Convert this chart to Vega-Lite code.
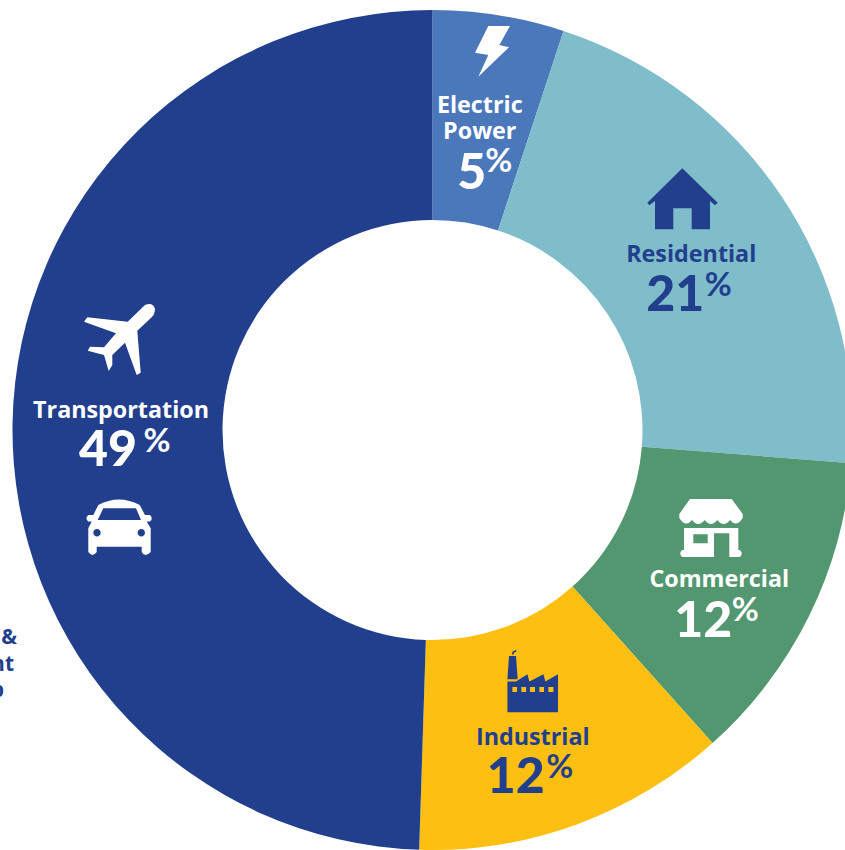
{"$schema":"https://vega.github.io/schema/vega-lite/v6.json","width":845,"height":850,"padding":0,"autosize":{"type":"none"},"background":"white","config":{"view":{"stroke":null}},
"layer":[
{"data":{"values":[{"sector":"Electric Power","share":5,"rank":1},{"sector":"Residential","share":21,"rank":2},{"sector":"Commercial","share":12,"rank":3},{"sector":"Industrial","share":12,"rank":4},{"sector":"Transportation","share":49,"rank":5}]},
"encoding":{"theta":{"field":"share","type":"quantitative","stack":true,"scale":{"domain":[0,99]}},"detail":{"field":"sector"},"order":{"field":"rank","type":"quantitative"}},
"layer":[
{"mark":{"type":"arc","x":432.5,"y":430,"innerRadius":210,"outerRadius":420},"encoding":{"color":{"field":"sector","type":"nominal","legend":null,"scale":{"domain":["Electric Power","Residential","Commercial","Industrial","Transportation"],"range":["#4B77BB","#7FBDCA","#539770","#FDBF11","#223F8D"]}}}},
{"mark":{"type":"text","x":432,"y":430,"radius":315,"dx":-2,"dy":-13,"font":"Open Sans","fontSize":23.3,"fontWeight":"bold","fill":"white","lineBreak":" ","lineHeight":26},"encoding":{"text":{"condition":{"test":"datum.sector==='Electric Power'","field":"sector"},"value":""}}},
{"mark":{"type":"text","x":432,"y":430,"radius":315,"dx":-3,"dy":-1,"font":"Open Sans","fontSize":23.3,"fontWeight":"bold","fill":"#223F8D"},"encoding":{"text":{"condition":{"test":"datum.sector==='Residential'","field":"sector"},"value":""}}},
{"mark":{"type":"text","x":432,"y":430,"radius":315,"dx":5,"dy":10,"font":"Open Sans","fontSize":23.3,"fontWeight":"bold","fill":"white"},"encoding":{"text":{"condition":{"test":"datum.sector==='Commercial'","field":"sector"},"value":""}}},
{"mark":{"type":"text","x":432,"y":430,"radius":315,"dx":-7,"dy":12,"font":"Open Sans","fontSize":23.3,"fontWeight":"bold","fill":"#223F8D"},"encoding":{"text":{"condition":{"test":"datum.sector==='Industrial'","field":"sector"},"value":""}}},
{"mark":{"type":"text","x":432,"y":430,"radius":315,"dx":4,"dy":-14,"font":"Open Sans","fontSize":23.3,"fontWeight":"bold","fill":"white"},"encoding":{"text":{"condition":{"test":"datum.sector==='Transportation'","field":"sector"},"value":""}}},
{"mark":{"type":"text","x":432,"y":430,"radius":315,"dx":-10,"dy":55,"font":"Lato","fontSize":50,"fontWeight":900,"fill":"white"},"encoding":{"text":{"condition":{"test":"datum.sector==='Electric Power'","field":"share","type":"quantitative"},"value":""}}},
{"mark":{"type":"text","x":432,"y":430,"radius":315,"dx":-19,"dy":40,"font":"Lato","fontSize":50,"fontWeight":900,"fill":"#223F8D"},"encoding":{"text":{"condition":{"test":"datum.sector==='Residential'","field":"share","type":"quantitative"},"value":""}}},
{"mark":{"type":"text","x":432,"y":430,"radius":315,"dx":-11,"dy":52,"font":"Lato","fontSize":50,"fontWeight":900,"fill":"white"},"encoding":{"text":{"condition":{"test":"datum.sector==='Commercial'","field":"share","type":"quantitative"},"value":""}}},
{"mark":{"type":"text","x":432,"y":430,"radius":315,"dx":-24,"dy":52,"font":"Lato","fontSize":50,"fontWeight":900,"fill":"#223F8D"},"encoding":{"text":{"condition":{"test":"datum.sector==='Industrial'","field":"share","type":"quantitative"},"value":""}}},
{"mark":{"type":"text","x":432,"y":430,"radius":315,"dx":-9,"dy":26,"font":"Lato","fontSize":50,"fontWeight":900,"fill":"white"},"encoding":{"text":{"condition":{"test":"datum.sector==='Transportation'","field":"share","type":"quantitative"},"value":""}}},
{"mark":{"type":"text","x":432,"y":430,"radius":315,"dx":17,"dy":43,"font":"Lato","fontSize":33,"fontWeight":"bold","fill":"white"},"encoding":{"text":{"condition":{"test":"datum.sector==='Electric Power'","value":"%"},"value":""}}},
{"mark":{"type":"text","x":432,"y":430,"radius":315,"dx":24,"dy":30,"font":"Lato","fontSize":33,"fontWeight":"bold","fill":"#223F8D"},"encoding":{"text":{"condition":{"test":"datum.sector==='Residential'","value":"%"},"value":""}}},
{"mark":{"type":"text","x":432,"y":430,"radius":315,"dx":31,"dy":41,"font":"Lato","fontSize":33,"fontWeight":"bold","fill":"white"},"encoding":{"text":{"condition":{"test":"datum.sector==='Commercial'","value":"%"},"value":""}}},
{"mark":{"type":"text","x":432,"y":430,"radius":315,"dx":20,"dy":42,"font":"Lato","fontSize":33,"fontWeight":"bold","fill":"#223F8D"},"encoding":{"text":{"condition":{"test":"datum.sector==='Industrial'","value":"%"},"value":""}}},
{"mark":{"type":"text","x":432,"y":430,"radius":315,"dx":40,"dy":17,"font":"Lato","fontSize":33,"fontWeight":"bold","fill":"white"},"encoding":{"text":{"condition":{"test":"datum.sector==='Transportation'","value":"%"},"value":""}}}
]},
{"data":{"values":[{"icon":"bolt"}]},"mark":{"type":"point","shape":"M-3.7,-25 L18,-25 L7.3,-6 L17,-3.7 L-13.7,25.7 L-3.7,4 L-17,1.7 Z","size":4,"filled":true,"fill":"white","opacity":1,"strokeWidth":0},"encoding":{"x":{"datum":492,"type":"quantitative","scale":{"domain":[0,845]},"axis":null},"y":{"datum":51,"type":"quantitative","scale":{"domain":[0,850],"range":[0,850]},"axis":null}}},
{"data":{"values":[{"icon":"house"}]},"mark":{"type":"point","shape":"M-0.7,-30.7 L34.7,3.7 L32,6.3 L27,2 L27,30.3 L8.7,30.3 L8.7,9.3 L-9.7,9.3 L-9.7,30.3 L-28,30.3 L-28,2 L-33.7,6.3 L-35.7,3.7 Z","size":4,"filled":true,"fill":"#223F8D","opacity":1,"strokeWidth":0},"encoding":{"x":{"datum":683,"type":"quantitative","scale":{"domain":[0,845]},"axis":null},"y":{"datum":199,"type":"quantitative","scale":{"domain":[0,850],"range":[0,850]},"axis":null}}},
{"data":{"values":[{"icon":"store"}]},"mark":{"type":"point","shape":"M-21,-30 L20.7,-30 L31.7,-15 L31.7,-11 Q25.4,-1 19,-9 Q12.7,-1 6.3,-9 Q0,-1 -6.3,-9 Q-12.7,-1 -19,-9 Q-25.4,-1 -31.7,-11 L-31.7,-15 Z M-27,-1 L27.3,-1 L27.3,21 L29,21 Q32.5,24.5 29,28 L18.3,28 L18.3,4.3 L3,4.3 L3,28 L-29,28 Q-32.5,24.5 -29,21 L-27,21 Z M-17.7,5.3 L-17.7,14.3 L-3.3,14.3 L-3.3,5.3 Z","size":4,"filled":true,"fill":"white","opacity":1,"strokeWidth":0},"encoding":{"x":{"datum":711,"type":"quantitative","scale":{"domain":[0,845]},"axis":null},"y":{"datum":529,"type":"quantitative","scale":{"domain":[0,850],"range":[0,850]},"axis":null}}},
{"data":{"values":[{"icon":"factory"}]},"mark":{"type":"point","shape":"M-25.3,-1.7 L-16.7,-1.7 L-5.3,-9 L-3.3,-1.7 L10.7,-9 L12.7,-1.7 L25.3,-9 L25.3,29 L-25.3,29 Z M-20.3,3.7 L-20.3,8.7 L-15.7,8.7 L-15.7,3.7 Z M-11.3,3.7 L-11.3,8.7 L-6.7,8.7 L-6.7,3.7 Z M-2.7,3.7 L-2.7,8.7 L2.3,8.7 L2.3,3.7 Z M6.7,3.7 L6.7,8.7 L11.3,8.7 L11.3,3.7 Z M15.7,3.7 L15.7,8.7 L20.7,8.7 L20.7,3.7 Z M-23.7,-27.3 L-16.7,-27.3 L-15,-4 L-25.3,-4 Z M-21,-28.7 L-20,-31.7 L-16.7,-33.3 L-16,-32 L-18.7,-30.5 L-19,-28.7 Z","size":4,"filled":true,"fill":"#223F8D","opacity":1,"strokeWidth":0},"encoding":{"x":{"datum":532.7,"type":"quantitative","scale":{"domain":[0,845]},"axis":null},"y":{"datum":683.3,"type":"quantitative","scale":{"domain":[0,850],"range":[0,850]},"axis":null}}},
{"data":{"values":[{"icon":"plane"}]},"mark":{"type":"point","shape":"M7.7,-18.3 L25,-35 Q33,-38 35,-31 Q35,-26 31.7,-22.7 L17.3,-9.3 L20.7,32.7 L16.7,35 L5,2.7 L-7.7,15 L-7.7,25 L-11.3,31 L-16,15 L-32.3,10.7 L-30,6.7 L-16,7.3 L-4,-6.7 L-36,-18.3 L-32.7,-22.7 Z","size":4,"filled":true,"fill":"white","opacity":1,"strokeWidth":0},"encoding":{"x":{"datum":120,"type":"quantitative","scale":{"domain":[0,845]},"axis":null},"y":{"datum":340,"type":"quantitative","scale":{"domain":[0,850],"range":[0,850]},"axis":null}}},
{"data":{"values":[{"icon":"car"}]},"mark":{"type":"point","shape":"M-20.7,-22 Q0,-33 20.7,-22 L26,-12 L31,-12 Q34.5,-8.5 31,-5.5 L27.7,-5.5 L31.7,1.3 L31.7,25 Q26,31 22.7,25 L22.7,19.7 L-22.3,19.7 L-22.3,25 Q-26.5,31 -30.7,25 L-30.7,1.3 L-27.3,-5.5 L-30.7,-5.5 Q-34.5,-8.5 -30.7,-12 L-25.7,-12 Z M-15.7,-18.7 L-21.3,-7 L22,-7 L17,-18.7 Z M-25.7,5.7 a3.7,3.7 0 1,0 7.4,0 a3.7,3.7 0 1,0 -7.4,0 Z M18.6,5.7 a3.7,3.7 0 1,0 7.4,0 a3.7,3.7 0 1,0 -7.4,0 Z","size":4,"filled":true,"fill":"white","opacity":1,"strokeWidth":0},"encoding":{"x":{"datum":119,"type":"quantitative","scale":{"domain":[0,845]},"axis":null},"y":{"datum":527,"type":"quantitative","scale":{"domain":[0,850],"range":[0,850]},"axis":null}}},
{"data":{"values":[{"fragment":"&"}]},"mark":{"type":"text","align":"right","baseline":"middle","font":"Open Sans","fontSize":21,"fontWeight":"bold","fill":"#223F8D"},"encoding":{"text":{"field":"fragment"},"x":{"datum":17,"type":"quantitative","scale":{"domain":[0,845]},"axis":null},"y":{"datum":638,"type":"quantitative","scale":{"domain":[0,850],"range":[0,850]},"axis":null}}},
{"data":{"values":[{"fragment":"nt"}]},"mark":{"type":"text","align":"right","baseline":"middle","font":"Open Sans","fontSize":21,"fontWeight":"bold","fill":"#223F8D"},"encoding":{"text":{"field":"fragment"},"x":{"datum":14,"type":"quantitative","scale":{"domain":[0,845]},"axis":null},"y":{"datum":665,"type":"quantitative","scale":{"domain":[0,850],"range":[0,850]},"axis":null}}},
{"data":{"values":[{"fragment":"p"}]},"mark":{"type":"text","align":"right","baseline":"middle","font":"Open Sans","fontSize":21,"fontWeight":"bold","fill":"#223F8D"},"encoding":{"text":{"field":"fragment"},"x":{"datum":4,"type":"quantitative","scale":{"domain":[0,845]},"axis":null},"y":{"datum":691,"type":"quantitative","scale":{"domain":[0,850],"range":[0,850]},"axis":null}}}
]}
